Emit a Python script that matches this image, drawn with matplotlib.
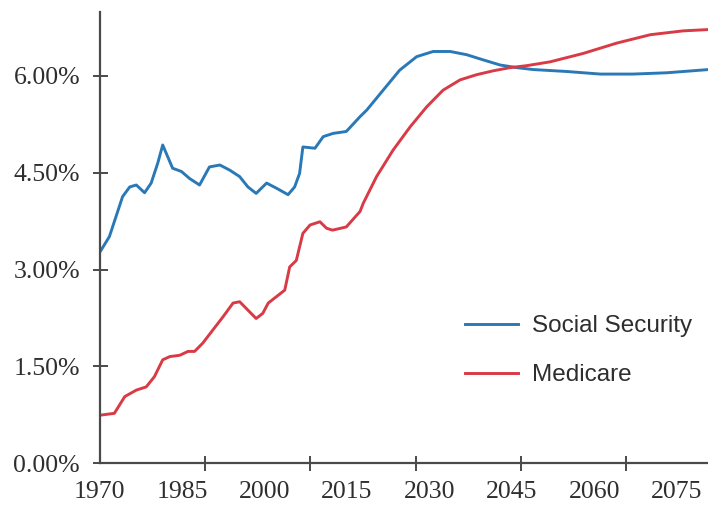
import matplotlib

matplotlib.use("Agg")
import matplotlib.pyplot as plt

# historical + projected cost, % of GDP
ss_years = [1970, 1971.8, 1973.0, 1974.2, 1975.5, 1976.7, 1978.2, 1979.4,
            1980.6, 1981.5, 1983.3, 1984.9, 1986.4, 1988.2, 1990.0, 1991.9,
            1993.7, 1995.5, 1997.0, 1998.5, 2000.4, 2002.2, 2004.3, 2005.5,
            2006.4, 2007.0, 2009.2, 2010.7, 2012.5, 2014.9, 2017.4, 2018.6,
            2021.6, 2024.6, 2027.7, 2030.7, 2033.8, 2036.8, 2039.8, 2042.9,
            2045.9, 2048.9, 2055.0, 2061.1, 2067.1, 2073.2, 2079.3, 2080.8]
ss_vals = [3.26, 3.51, 3.82, 4.13, 4.28, 4.31, 4.19, 4.34,
           4.65, 4.93, 4.57, 4.52, 4.41, 4.31, 4.59, 4.62,
           4.54, 4.44, 4.28, 4.18, 4.34, 4.26, 4.16, 4.28,
           4.49, 4.90, 4.88, 5.06, 5.11, 5.14, 5.37, 5.47,
           5.78, 6.09, 6.30, 6.38, 6.38, 6.33, 6.25, 6.17,
           6.13, 6.10, 6.07, 6.03, 6.03, 6.05, 6.09, 6.10]

med_years = [1970, 1972.7, 1974.6, 1976.7, 1978.5, 1980.0, 1981.5, 1982.8,
             1984.6, 1986.1, 1987.3, 1988.8, 1990.6, 1992.5, 1994.3, 1995.5,
             1997.0, 1998.5, 1999.7, 2000.7, 2002.2, 2003.7, 2004.6, 2005.8,
             2007.0, 2008.3, 2010.1, 2011.3, 2012.4, 2014.9, 2017.4, 2018.0,
             2020.4, 2023.4, 2026.5, 2029.5, 2032.5, 2035.6, 2038.6, 2041.6,
             2044.7, 2047.7, 2052.0, 2058.0, 2064.1, 2070.2, 2076.2, 2080.8]
med_vals = [0.74, 0.77, 1.03, 1.13, 1.18, 1.34, 1.60, 1.65,
            1.67, 1.73, 1.73, 1.86, 2.06, 2.27, 2.48, 2.50,
            2.37, 2.24, 2.32, 2.48, 2.58, 2.68, 3.04, 3.14,
            3.56, 3.69, 3.74, 3.64, 3.61, 3.66, 3.90, 4.03,
            4.44, 4.85, 5.21, 5.52, 5.78, 5.94, 6.02, 6.08,
            6.13, 6.16, 6.22, 6.35, 6.51, 6.64, 6.70, 6.72]

x_labels = [1970, 1985, 2000, 2015, 2030, 2045, 2060, 2075]
x_marks = [1970, 1989.2, 2008.3, 2027.6, 2046.7, 2065.8]
y_ticks = [0, 1.5, 3.0, 4.5, 6.0]

BLUE = "#2a79b6"
RED = "#d83a46"
AXC = "#4a4a4a"
TXT = "#2e2e2e"

fig = plt.figure(figsize=(7.08, 5.09), dpi=100)
ax = fig.add_axes([99.5 / 708, 46 / 509, 1 - 99.5 / 708, 451.5 / 509])

ax.plot(ss_years, ss_vals, color=BLUE, lw=2.1, label="Social Security",
        solid_joinstyle="round")
ax.plot(med_years, med_vals, color=RED, lw=2.1, label="Medicare",
        solid_joinstyle="round")

ax.set_xlim(1970, 2080.7)
ax.set_ylim(0, 7.0)

for s in ("top", "right"):
    ax.spines[s].set_visible(False)
for s in ("left", "bottom"):
    ax.spines[s].set_color(AXC)
    ax.spines[s].set_linewidth(1.6)

serif = "Liberation Serif"
ax.set_yticks(y_ticks)
ax.set_yticklabels([f"{v:.2f}%" for v in y_ticks], family=serif,
                   fontsize=18.5, color=TXT)
ax.tick_params(axis="y", direction="inout", length=10.8, width=1.4,
               color=AXC, pad=8.6)

ax.set_xticks(x_labels)
ax.set_xticklabels([str(v) for v in x_labels], family=serif,
                   fontsize=18.5, color=TXT)
ax.tick_params(axis="x", which="major", length=0, pad=13)
ax.set_xticks(x_marks, minor=True)
ax.tick_params(axis="x", which="minor", direction="inout", length=10.8,
               width=1.4, color=AXC)

leg = ax.legend(loc="upper left", bbox_to_anchor=(465 / 708, 1 - 315 / 509),
                bbox_transform=fig.transFigure, frameon=False, borderpad=0,
                borderaxespad=0, handlelength=2.2, handletextpad=0.55,
                labelspacing=1.12,
                prop={"family": "Liberation Sans", "size": 17.5})
for t in leg.get_texts():
    t.set_color(TXT)

fig.savefig("out.png", dpi=100)
